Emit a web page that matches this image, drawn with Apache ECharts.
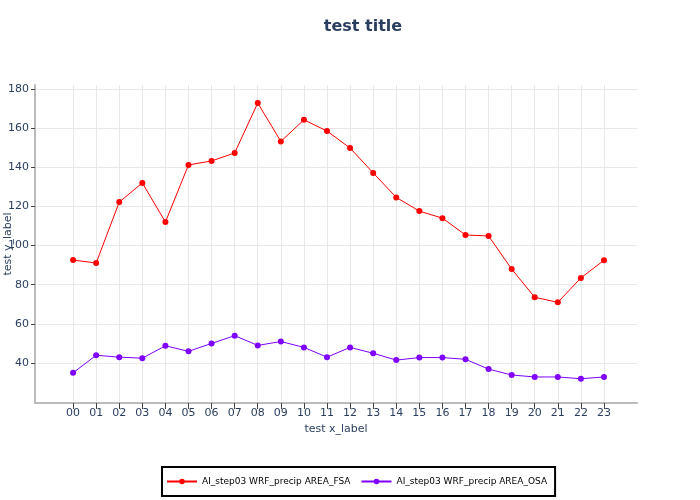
<!DOCTYPE html>
<html>
<head>
<meta charset="utf-8">
<script src="https://cdn.jsdelivr.net/npm/echarts@6/dist/echarts.min.js"></script>
<style>html,body{margin:0;padding:0;background:#fff}#c{width:700px;height:500px}</style>
</head>
<body>
<div id="c"></div>
<script>
const hours = [0,1,2,3,4,5,6,7,8,9,10,11,12,13,14,15,16,17,18,19,20,21,22,23];
const fsaValues = [92.6,91.1,122.2,132,112,141.2,143.2,147.3,172.8,153.2,164.2,158.5,149.8,137.1,124.6,117.6,114,105.4,104.9,88,73.6,71,83.5,92.5];
const osaValues = [35,44,43,42.5,48.8,46,50,54,49,51,48,43,48,45,41.5,42.8,42.8,41.9,36.9,33.9,32.9,32.9,32,32.9];
const seriesNames = ['AI_step03 WRF_precip AREA_FSA','AI_step03 WRF_precip AREA_OSA'];
const yTicks = [40,60,80,100,120,140,160,180];

const font = 'DejaVu Sans';
const txt = '#2a3f5f';
const chart = echarts.init(document.getElementById('c'), null, {renderer:'canvas'});
chart.setOption({
  animation:false,
  backgroundColor:'#fff',
  textStyle:{fontFamily:font},
  title:{text:'test title', left:358, top:14, textAlign:'center',
    textStyle:{fontFamily:font, fontSize:16, fontWeight:'bold', color:txt}},
  grid:{left:35, right:63, top:85, bottom:97, containLabel:false, outerBoundsMode:'none'},
  legend:{
    left:162, top:467, width:393-4, height:32-4,
    orient:'horizontal',
    padding:[10,8,10,4],
    borderColor:'#000', borderWidth:2,
    itemWidth:30, itemHeight:7, itemGap:10,
    textStyle:{fontFamily:font, fontSize:9, color:'#000'},
    data:seriesNames
  },
  xAxis:{
    type:'value', min:-1.65, max:24.43,
    name:'test x_label', nameLocation:'middle', nameGap:19,
    nameTextStyle:{fontFamily:font, fontSize:11, color:txt},
    axisLine:{show:true, onZero:false, lineStyle:{color:'#bbbbbb', width:2}},
    axisTick:{show:true, customValues:hours, length:6, lineStyle:{color:'#444'}},
    axisLabel:{customValues:hours, fontFamily:font, fontSize:11, color:txt, margin:5,
      formatter:v=>String(v).padStart(2,'0')},
    splitLine:{show:true, lineStyle:{color:'#e8e8e8', width:1}}
  },
  yAxis:{
    type:'value', min:19.6, max:182,
    name:'test y_label', nameLocation:'middle', nameGap:21, nameRotate:90, nameMoveOverlap:false,
    nameTextStyle:{fontFamily:font, fontSize:11, color:txt},
    axisLine:{show:true, onZero:false, lineStyle:{color:'#bbbbbb', width:2}},
    axisTick:{show:true, customValues:yTicks, length:4, lineStyle:{color:'#444'}},
    axisLabel:{customValues:yTicks, fontFamily:font, fontSize:11, color:txt, margin:6},
    splitLine:{show:true, lineStyle:{color:'#e8e8e8', width:1}}
  },
  series:[
    {name:seriesNames[0], type:'line', data:hours.map((h,i)=>[h,fsaValues[i]]),
      symbol:'circle', symbolSize:6, itemStyle:{color:'#ff0000'}, lineStyle:{color:'#ff0000', width:1}},
    {name:seriesNames[1], type:'line', data:hours.map((h,i)=>[h,osaValues[i]]),
      symbol:'circle', symbolSize:6, itemStyle:{color:'#7f00ff'}, lineStyle:{color:'#7f00ff', width:1}}
  ]
});
</script>
</body>
</html>
